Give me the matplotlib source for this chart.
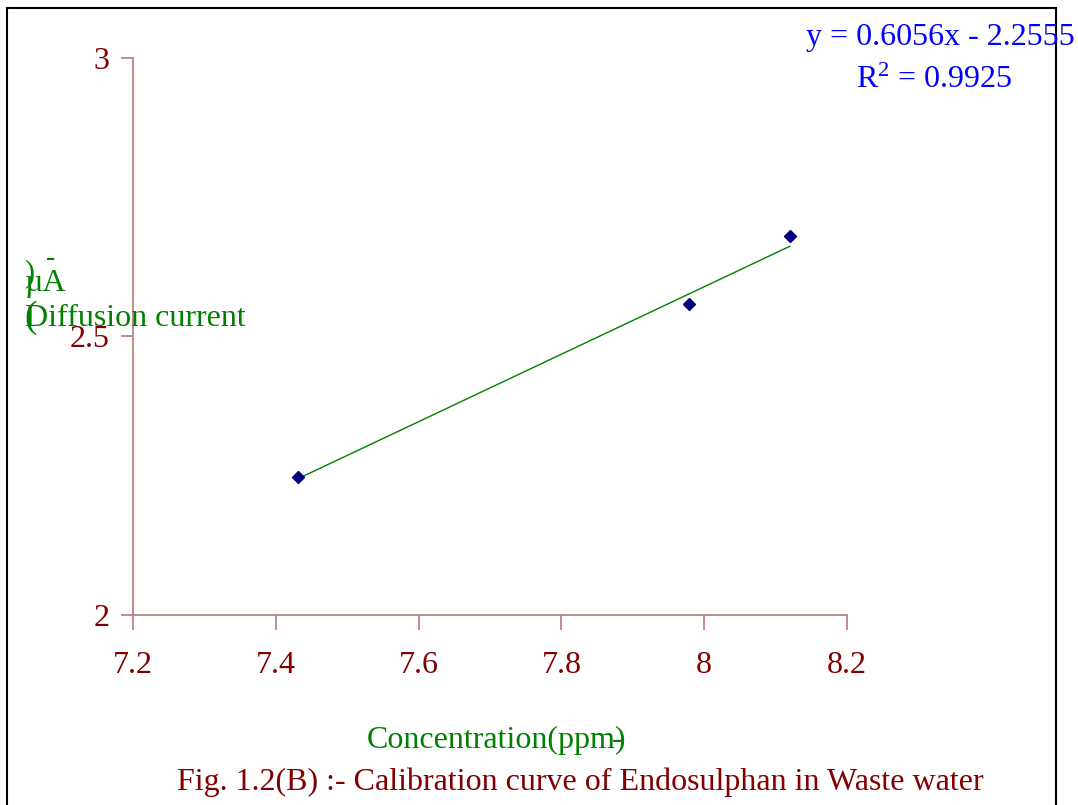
import numpy as np
import matplotlib
matplotlib.use("Agg")
import matplotlib.pyplot as plt
from matplotlib.patches import Rectangle

plt.rcParams["font.family"] = ["Liberation Serif", "DejaVu Serif"]
plt.rcParams["mathtext.fontset"] = "custom"
plt.rcParams["mathtext.rm"] = "Liberation Serif"
plt.rcParams["mathtext.it"] = "Liberation Serif"

# data
conc = [7.431, 7.979, 8.120]
current = [2.248, 2.558, 2.680]
slope = 0.6056
intercept = -2.2555
r2 = 0.9925
xticks = [7.2, 7.4, 7.6, 7.8, 8.0, 8.2]
xticklabels = ["7.2", "7.4", "7.6", "7.8", "8", "8.2"]
yticks = [2, 2.5, 3]
yticklabels = ["2", "2.5", "3"]

axis_col = "#b87a7a"
tick_col = "#800000"
green = "#008000"
blue = "#0000ff"
fs = 23

fig = plt.figure(figsize=(10.78, 8.05), dpi=100)
ax = fig.add_axes([0.1234, 0.236, 0.6623, 0.692])

ax.plot(conc, current, linestyle="none", marker="D", markersize=6.5,
        color="#000080", zorder=3)
xl = np.array([min(conc), max(conc)])
ax.plot(xl, slope * xl + intercept, color=green, lw=1)

ax.set_xlim(7.2, 8.2)
ax.set_ylim(2, 3)
ax.set_xticks(xticks)
ax.set_xticklabels(xticklabels)
ax.set_yticks(yticks)
ax.set_yticklabels(yticklabels)
for s in ["top", "right"]:
    ax.spines[s].set_visible(False)
for s in ["left", "bottom"]:
    ax.spines[s].set_color(axis_col)
    ax.spines[s].set_linewidth(1.2)
ax.tick_params(axis="both", colors=axis_col, labelcolor=tick_col,
               labelsize=fs, length=9, width=1.2, direction="out")
ax.tick_params(axis="x", length=11, pad=15)
ax.tick_params(axis="y", pad=8)

# trendline label
fig.text(940 / 1078, 1 - 38 / 805, "y = 0.6056x - 2.2555", color=blue,
         fontsize=fs, ha="center", va="center")
fig.text(934 / 1078, 1 - 80 / 805, r"R$^2$ = 0.9925", color=blue,
         fontsize=fs, ha="center", va="center")

# broken y label
fig.text(25 / 1078, 1 - 318 / 805, "Diffusion current", color=green,
         fontsize=fs, ha="left", va="center")
fig.text(25 / 1078, 1 - 283 / 805, "\u00b5A", color=green,
         fontsize=fs, ha="left", va="center")
fig.text(24 / 1078, 1 - 318 / 805, "(", color=green,
         fontsize=27, ha="left", va="center")
fig.text(24 / 1078, 1 - 274 / 805, ")", color=green,
         fontsize=22, ha="left", va="center")
fig.text(46 / 1078, 1 - 258 / 805, "-", color=green,
         fontsize=20, ha="left", va="center")

# x label
fig.text(497 / 1078, 1 - 740 / 805, "Concentration(ppm)", color=green,
         fontsize=fs, ha="center", va="center")
fig.text(617 / 1078, 1 - 740 / 805, "-", color=green,
         fontsize=fs, ha="center", va="center")

fig.text(580 / 1078, 1 - 782 / 805,
         "Fig. 1.2(B) :- Calibration curve of Endosulphan in Waste water",
         color=tick_col, fontsize=fs, ha="center", va="center")

# outer frame
fig.patches.append(Rectangle((7 / 1078, -0.02), (1056 - 7) / 1078,
                             1.02 - 8 / 805, transform=fig.transFigure,
                             fill=False, edgecolor="black", lw=1.5))

fig.savefig("out.png", dpi=100)
